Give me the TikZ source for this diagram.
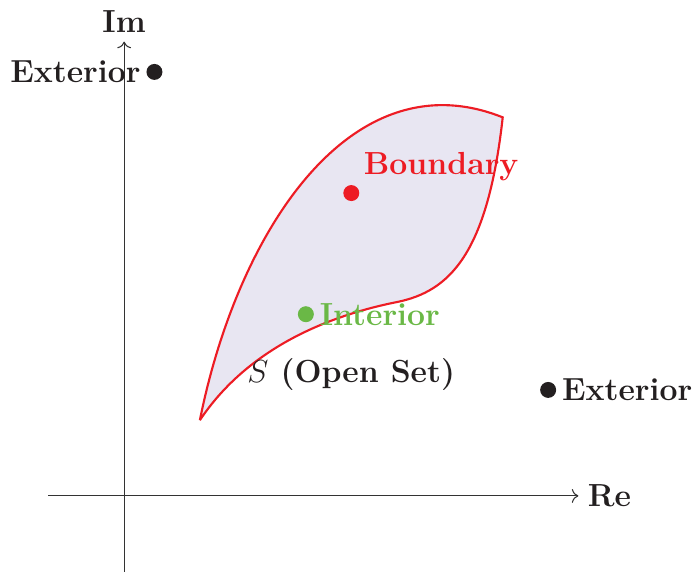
\documentclass[tikz,border=0pt]{standalone}
\usepackage{xcolor}
\usepackage{amsmath}
\usepackage{tikz}
\usetikzlibrary{
  arrows.meta,
  positioning
}
\definecolor{conjfill}{RGB}{232,230,242}
\definecolor{bordred}{RGB}{237,28,36}
\definecolor{intgreen}{RGB}{106,184,70}
\definecolor{pretin}{RGB}{35,31,32}

\begin{document}
\begin{tikzpicture}[
      ponto/.style={circle, fill, inner sep=0pt, minimum size=6pt},
      rotulo/.style={font=\large\bfseries, text=pretin},
      eixo/.style={->, draw=black!80}
  ]
      \useasboundingbox (-1.64,-1) rectangle (7.5,6.55);

      % Conjunto S (regiao sombreada)
      \filldraw[fill=conjfill, draw=bordred, thick]
          (1,1) .. controls (1.5,3.5) and (3,5.8) .. (5,5)
                .. controls (4.8,3.2) and (4.3,2.7) .. (3.6,2.56)
                .. controls (2.6,2.36) and (1.6,1.9) .. (1,1);

      % Eixos
      \coordinate (xmin) at (-1,0);
      \coordinate (xmax) at (6,0);
      \coordinate (ymin) at (0,-1);
      \coordinate (ymax) at (0,6);
      \draw[eixo] (xmin) -- (xmax);
      \draw[eixo] (ymin) -- (ymax);
      \node[rotulo, right] (re) at (xmax) {Re};
      \node[rotulo, above] (im) at (ymax) {Im};

      % Pontos
      \node[ponto, pretin] (ext1) at (0.4,5.6) {};
      \node[ponto, bordred] (bord) at (3,4) {};
      \node[ponto, intgreen] (inte) at (2.4,2.4) {};
      \node[ponto, pretin] (ext2) at (5.6,1.4) {};

      % Rotulos dos pontos
      \node[rotulo, left=-1.5pt of ext1] (lext1) {Exterior};
      \node[rotulo, text=bordred, above right=-1.5pt of bord] (lbord) {Boundary};
      \node[rotulo, text=intgreen, right=-1.5pt of inte] (linte) {Interior};
      \node[rotulo, right=-1.5pt of ext2] (lext2) {Exterior};

      \node[rotulo] (nome) at (3,1.6) {$S$ (Open Set)};

  \end{tikzpicture}
\end{document}
